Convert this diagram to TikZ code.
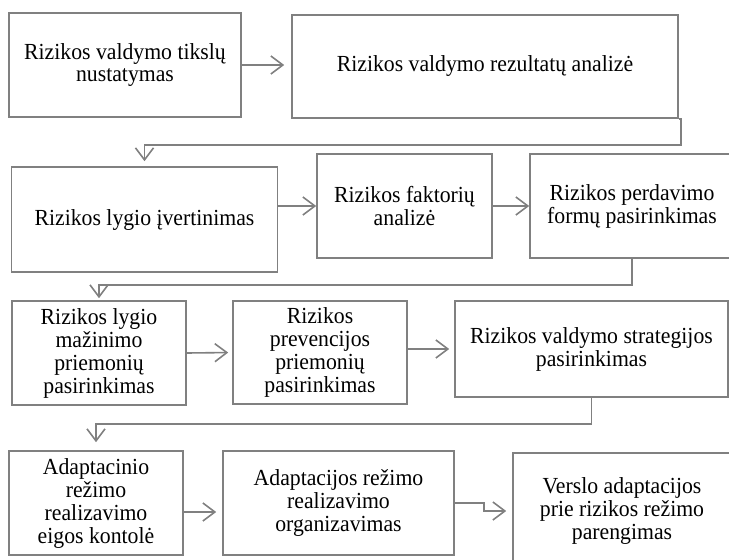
\documentclass[tikz,border=0pt]{standalone}
\usepackage{fontspec}
\setmainfont{Liberation Serif}[FakeStretch=0.945]
\usepackage{tikz}
\usetikzlibrary{arrows.meta,%
		calc,%
		positioning}

\definecolor{linegray}{RGB}{128,128,128}

\begin{document}
\begin{tikzpicture}[x=1pt,y=-1pt,
  blok/.style={draw=linegray, line width=1.6pt, align=center, inner sep=0pt,
    font=\fontsize{23pt}{23pt}\selectfont},
  rod/.style={draw=linegray, line width=1.6pt,
    -{Straight Barb[length=12pt,width=18pt,line width=1.6pt]}}]
  \useasboundingbox (0,0) rectangle (729,560);

  % pirma eilute
  \node [blok, minimum width=232pt, minimum height=104pt] (tikslai) at (125,65)
    {Rizikos valdymo tikslų\\nustatymas};
  \node [blok, minimum width=386pt, minimum height=103pt] (analize) at (485,66.5)
    {Rizikos valdymo rezultatų analizė};

  % antra eilute
  \node [blok, minimum width=266pt, minimum height=105pt] (ivertinimas) at (144.5,219.5)
    {Rizikos lygio įvertinimas};
  \node [blok, minimum width=175pt, minimum height=104pt] (faktoriai) at (404.5,206)
    {Rizikos faktorių\\analizė};
  \node [blok, minimum width=204pt, minimum height=104pt] (perdavimas) at (632,206)
    {Rizikos perdavimo\\formų pasirinkimas};

  % trecia eilute
  \node [blok, minimum width=174pt, minimum height=104pt] (mazinimas) at (99,353)
    {Rizikos lygio\\mažinimo\\priemonių\\pasirinkimas};
  \node [blok, minimum width=174pt, minimum height=103pt] (prevencija) at (320,352.5)
    {Rizikos\\prevencijos\\priemonių\\pasirinkimas};
  \node [blok, minimum width=273pt, minimum height=96pt] (strategija) at (591.5,349)
    {Rizikos valdymo strategijos\\pasirinkimas};

  % ketvirta eilute
  \node [blok, minimum width=174pt, minimum height=104pt] (kontrole) at (96,503)
    {Adaptacinio\\režimo\\realizavimo\\eigos kontolė};
  \node [blok, minimum width=231pt, minimum height=104pt] (organizavimas) at (338.5,503)
    {Adaptacijos režimo\\realizavimo\\organizavimas};
  \node [blok, minimum width=218pt, minimum height=116pt] (parengimas) at (622,511)
    {Verslo adaptacijos\\prie rizikos režimo\\parengimas};

  \draw [rod, shorten >=7pt] (tikslai.east) -- (tikslai.east -| analize.west);
  \draw [rod, shorten >=5pt] (analize.south east) -- ++(2,0) -- ++(0,26) -| (ivertinimas.north);

  \draw [rod] (faktoriai.west -| ivertinimas.east) -- (faktoriai.west);
  \draw [rod] (faktoriai.east) -- (perdavimas.west);
  \draw [rod, shorten >=2pt] (perdavimas.south) -- ++(0,26) -| (mazinimas.north);

  \draw [rod, shorten >=4pt] (mazinimas.east) -- (prevencija.west);
  \draw [rod, shorten >=5pt] (prevencija.east |- strategija.west) -- (strategija.west);
  \draw [rod, shorten >=8pt] (strategija.south) -- ++(0,26) -| (kontrole.north);

  \draw [rod, shorten >=6pt] ([yshift=-9pt]kontrole.east) -- ([yshift=-9pt]kontrole.east -| organizavimas.west);
  \draw [rod, shorten >=6pt] (organizavimas.east) -- ++(29,0) |- (parengimas.west);
\end{tikzpicture}
\end{document}
